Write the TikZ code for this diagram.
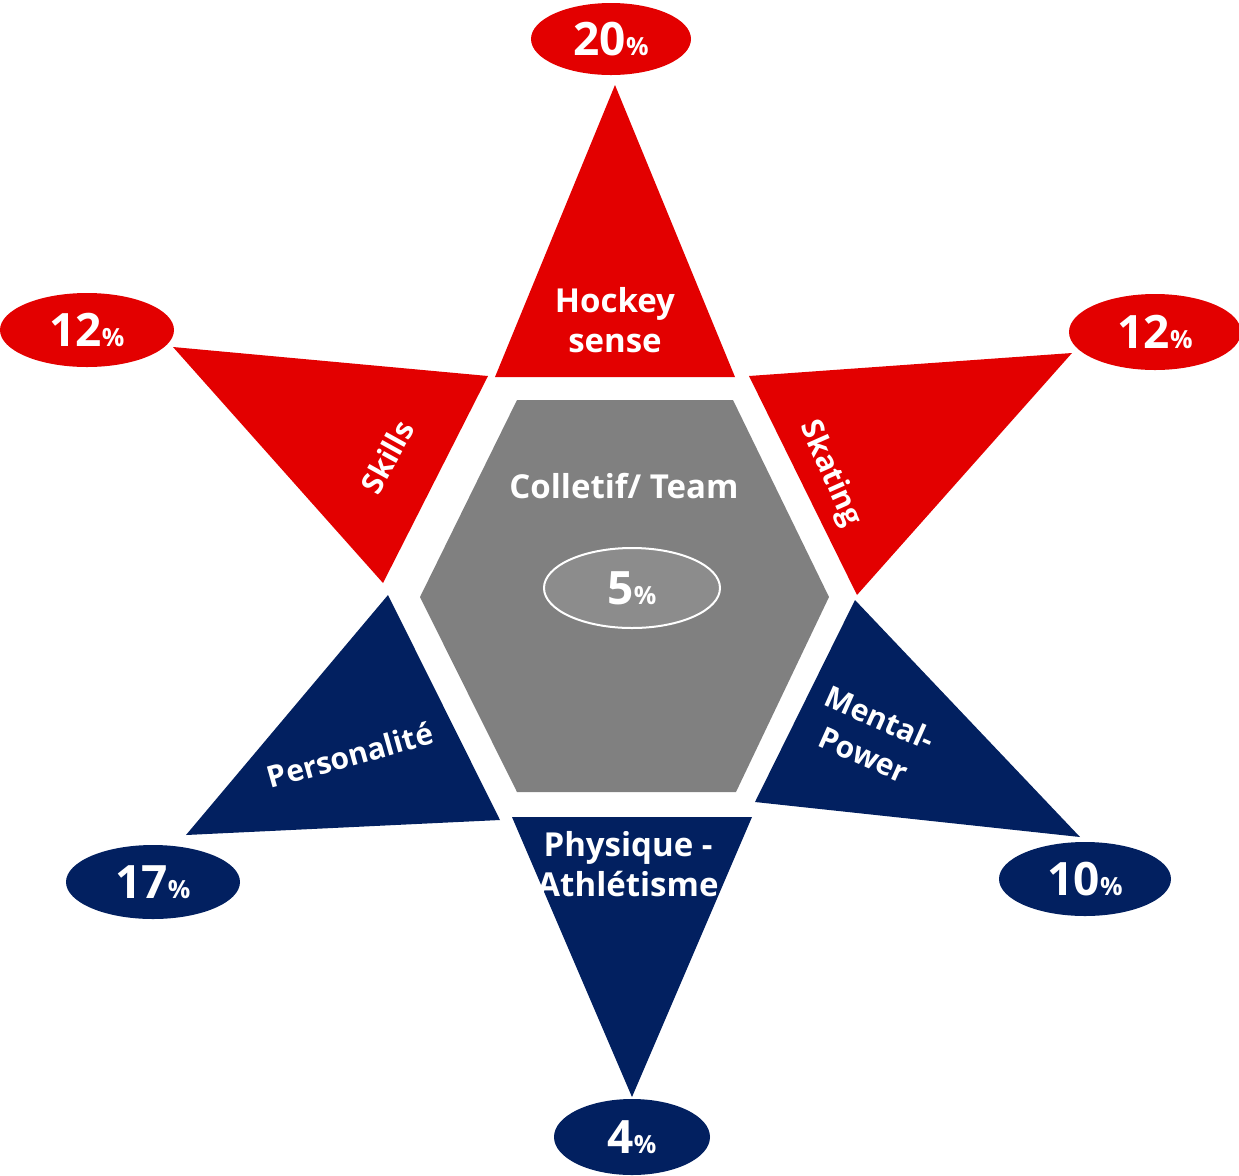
\documentclass[tikz,border=0pt]{standalone}
\usepackage{fontspec}
\setmainfont{Open Sans}
\usepackage{xcolor}
\definecolor{starred}{HTML}{E30000}
\definecolor{starblue}{HTML}{022060}
\definecolor{hexgray}{HTML}{808080}
\definecolor{coregray}{HTML}{8C8C8C}
\usepackage{tikz}
\usetikzlibrary{shapes.geometric}

\newcommand{\pc}{{\fontsize{12.5}{12}\selectfont\%}}
\tikzset{
  pct/.style={ellipse, inner sep=0pt, text=white, font=\fontsize{23}{23}\selectfont\bfseries},
  lbl/.style={text=white, align=center, font=\fontsize{16.5}{20}\selectfont\bfseries},
  rlbl/.style={text=white, align=center, font=\fontsize{15}{20}\selectfont\bfseries},
}

\begin{document}
\begin{tikzpicture}[x=0.5pt, y=-0.5pt]
  \useasboundingbox (0,0) rectangle (1239,1175);

  % Centre hexagon
  \fill[hexgray] (420,597) -- (517,400) -- (733,400) -- (829,597) -- (736,792) -- (517,792) -- cycle;

  % Red points
  \fill[starred] (495,377) -- (615,85) -- (735,377) -- cycle;
  \fill[starred] (488,376) -- (173,347) -- (383,583) -- cycle;
  \fill[starred] (749,376) -- (1072,353) -- (857,595) -- cycle;

  % Blue points
  \fill[starblue] (388,595) -- (500,820) -- (186,835) -- cycle;
  \fill[starblue] (512,817) -- (752,817) -- (632,1097) -- cycle;
  \fill[starblue] (855,600) -- (1080,837) -- (755,802) -- cycle;

  % Shares
  \node[pct, fill=starred, minimum width=80pt, minimum height=36pt] (top) at (611,39) {20\pc};
  \node[pct, fill=starred, minimum width=87pt, minimum height=37pt] (upleft) at (87,330) {12\pc};
  \node[pct, fill=starred, minimum width=86pt, minimum height=38pt] (upright) at (1155,332) {12\pc};
  \node[pct, fill=starblue, minimum width=87pt, minimum height=37pt] (lowleft) at (153,882) {17\pc};
  \node[pct, fill=starblue, minimum width=86pt, minimum height=37pt] (lowright) at (1085,879) {10\pc};
  \node[pct, fill=starblue, minimum width=78pt, minimum height=38pt] (bottom) at (632,1137) {4\pc};
  \node[pct, fill=coregray, draw=white, line width=1pt, minimum width=88pt, minimum height=40pt] (core) at (632,588) {5\pc};

  % Labels
  \node[lbl] (hockey) at (615,320) {Hockey\\sense};
  \node[lbl, anchor=base] (team) at (624,498) {Colletif/ Team};
  \node[lbl] (physique) at (628,864) {Physique -\\Athlétisme};
  \node[rlbl, rotate=61] (skills) at (387,457) {Skills};
  \node[rlbl, rotate=-66] (skating) at (830,474) {Skating};
  \node[rlbl, rotate=15.6] (perso) at (350,755) {Personalité};
  \node[rlbl, rotate=-24] (mental) at (872,736) {Mental-\\Power};
\end{tikzpicture}
\end{document}
